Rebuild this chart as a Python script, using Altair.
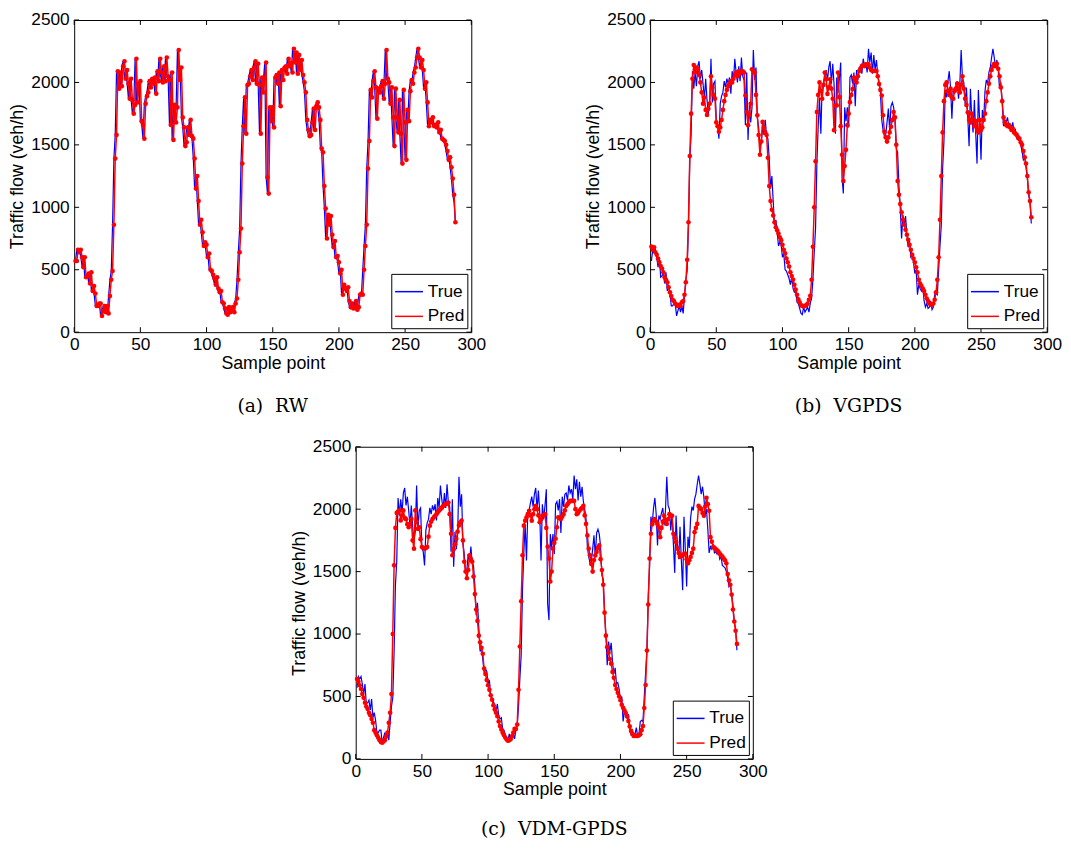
import altair as alt
import pandas as pd

# ---------------- data ----------------
true_flow = [
    570, 660, 640, 660, 600, 520, 600, 440, 450, 470,
    390, 480, 330, 370, 310, 210, 210, 230, 230, 130,
    170, 210, 160, 210, 150, 290, 420, 490, 860, 1390,
    1580, 2090, 1950, 2080, 1970, 2130, 2170, 2030, 2100, 1990,
    1870, 2030, 1860, 1750, 1820, 2190, 1840, 1990, 2010, 1690,
    1660, 1550, 1830, 1890, 1920, 2010, 1960, 2030, 1990, 2040,
    1910, 2090, 2010, 2190, 2080, 2000, 2130, 2010, 2200, 2050,
    2020, 1660, 2080, 1540, 1820, 1680, 1800, 2260, 2020, 2120,
    1720, 1640, 1490, 1520, 1640, 1580, 1700, 1570, 1550, 1390,
    1150, 1250, 1050, 860, 900, 800, 690, 720, 700, 600,
    630, 500, 490, 460, 430, 380, 440, 350, 320, 330,
    240, 230, 190, 150, 140, 200, 160, 180, 200, 160,
    230, 270, 420, 640, 830, 1350, 1650, 1880, 1590, 1980,
    1990, 2050, 2100, 2020, 2120, 2170, 1990, 2150, 1980, 1590,
    2040, 1920, 2030, 2160, 1240, 1110, 1800, 1690, 1800, 1640,
    2040, 2060, 1990, 2080, 1810, 2100, 2020, 2120, 2130, 2070,
    2190, 2130, 2160, 2080, 2270, 2160, 2240, 2070, 2220, 2100,
    2180, 2060, 2000, 1920, 1700, 1620, 1570, 1580, 1680, 1790,
    1620, 1810, 1840, 1800, 1700, 1470, 1440, 1170, 990, 750,
    940, 860, 930, 780, 680, 730, 600, 610, 560, 470,
    500, 300, 380, 350, 330, 360, 250, 200, 230, 190,
    200, 250, 180, 200, 300, 310, 300, 500, 690, 860,
    1310, 1530, 1940, 1880, 2010, 2090, 1960, 1710, 1950, 1920,
    1970, 2010, 1870, 1990, 2260, 2030, 2000, 1830, 1960, 1720,
    1490, 1950, 1720, 1600, 1860, 1590, 1350, 1940, 1680, 1380,
    1780, 1690, 1930, 2020, 1990, 2080, 2120, 2200, 2270, 2200,
    2120, 2180, 2100, 1950, 2000, 1840, 1650, 1700, 1680, 1720,
    1650, 1660, 1640, 1680, 1600, 1620, 1550, 1540, 1530, 1500,
    1450, 1380, 1400, 1320, 1230, 1100, 1040, 870,
]

pred_rw = [
    570, 570, 660, 640, 660, 600, 520, 600, 440, 450,
    470, 390, 480, 330, 370, 310, 210, 210, 230, 230,
    130, 170, 210, 160, 210, 150, 290, 420, 490, 860,
    1390, 1580, 2090, 1950, 2080, 1970, 2130, 2170, 2030, 2100,
    1990, 1870, 2030, 1860, 1750, 1820, 2190, 1840, 1990, 2010,
    1690, 1660, 1550, 1830, 1890, 1920, 2010, 1960, 2030, 1990,
    2040, 1910, 2090, 2010, 2190, 2080, 2000, 2130, 2010, 2200,
    2050, 2020, 1660, 2080, 1540, 1820, 1680, 1800, 2260, 2020,
    2120, 1720, 1640, 1490, 1520, 1640, 1580, 1700, 1570, 1550,
    1390, 1150, 1250, 1050, 860, 900, 800, 690, 720, 700,
    600, 630, 500, 490, 460, 430, 380, 440, 350, 320,
    330, 240, 230, 190, 150, 140, 200, 160, 180, 200,
    160, 230, 270, 420, 640, 830, 1350, 1650, 1880, 1590,
    1980, 1990, 2050, 2100, 2020, 2120, 2170, 1990, 2150, 1980,
    1590, 2040, 1920, 2030, 2160, 1240, 1110, 1800, 1690, 1800,
    1640, 2040, 2060, 1990, 2080, 1810, 2100, 2020, 2120, 2130,
    2070, 2190, 2130, 2160, 2080, 2270, 2160, 2240, 2070, 2220,
    2100, 2180, 2060, 2000, 1920, 1700, 1620, 1570, 1580, 1680,
    1790, 1620, 1810, 1840, 1800, 1700, 1470, 1440, 1170, 990,
    750, 940, 860, 930, 780, 680, 730, 600, 610, 560,
    470, 500, 300, 380, 350, 330, 360, 250, 200, 230,
    190, 200, 250, 180, 200, 300, 310, 300, 500, 690,
    860, 1310, 1530, 1940, 1880, 2010, 2090, 1960, 1710, 1950,
    1920, 1970, 2010, 1870, 1990, 2260, 2030, 2000, 1830, 1960,
    1720, 1490, 1950, 1720, 1600, 1860, 1590, 1350, 1940, 1680,
    1380, 1780, 1690, 1930, 2020, 1990, 2080, 2120, 2200, 2270,
    2200, 2120, 2180, 2100, 1950, 2000, 1840, 1650, 1700, 1680,
    1720, 1650, 1660, 1640, 1680, 1600, 1620, 1550, 1540, 1530,
    1500, 1450, 1380, 1400, 1320, 1230, 1100, 880,
]

pred_vgpds = [
    685, 660, 680, 640, 620, 590, 560, 530, 510, 480,
    440, 420, 400, 360, 320, 290, 260, 250, 230, 220,
    210, 220, 210, 240, 250, 300, 400, 580, 880, 1410,
    1750, 2030, 2140, 2080, 2120, 2110, 2060, 2000, 1920, 1830,
    1880, 1780, 1740, 1790, 1830, 2050, 1960, 1900, 1870, 1680,
    1650, 1605, 1640, 1700, 1780, 1850, 1900, 1940, 1970, 1990,
    2010, 2000, 2030, 2060, 2080, 2050, 2090, 2070, 2090, 2090,
    2080, 1895, 1763, 1658, 1740, 1829, 2105, 2090, 2079, 1900,
    1737, 1579, 1421, 1526, 1684, 1640, 1600, 1579, 1397, 1171,
    1050, 980, 934, 880, 840, 816, 790, 760, 737, 700,
    660, 632, 590, 560, 526, 480, 450, 421, 380, 342,
    300, 263, 240, 215, 211, 205, 211, 215, 230, 260,
    292, 420, 684, 1000, 1368, 1763, 1900, 2000, 1930, 1869,
    1980, 2079, 2026, 1908, 1960, 2026, 1950, 1869, 1618, 1816,
    1816, 2079, 1882, 1650, 1421, 1210, 1330, 1460, 1658, 1750,
    1842, 1900, 1947, 2039, 2020, 2000, 2050, 2092, 2110, 2131,
    2140, 2131, 2145, 2140, 2145, 2120, 2100, 2092, 2092, 2092,
    2092, 2050, 1987, 1940, 1895, 1737, 1605, 1560, 1526, 1560,
    1600, 1645, 1700, 1763, 1720, 1500, 1210, 1100, 1026, 960,
    900, 860, 820, 780, 740, 700, 660, 620, 590, 560,
    520, 480, 420, 390, 370, 350, 330, 300, 270, 250,
    230, 220, 220, 230, 260, 320, 420, 600, 900, 1250,
    1600, 1850, 1980, 2000, 1930, 1900, 1950, 1880, 1870, 1930,
    1950, 1990, 1950, 1920, 1980, 2050, 1950, 1870, 1820, 1760,
    1700, 1680, 1750, 1700, 1650, 1690, 1620, 1600, 1700, 1620,
    1640, 1700, 1750, 1850, 1920, 1990, 2050, 2100, 2130, 2150,
    2130, 2150, 2110, 2050, 1960, 1850, 1720, 1680, 1660, 1650,
    1660, 1640, 1620, 1630, 1600, 1590, 1580, 1560, 1550, 1520,
    1500, 1450, 1400, 1350, 1250, 1120, 1050, 920,
]

pred_vdm_gpds = [
    640, 620, 590, 560, 520, 490, 450, 420, 400, 370,
    350, 320, 290, 230, 210, 190, 170, 150, 135, 130,
    140, 150, 180, 210, 290, 370, 520, 1000, 1550, 1850,
    1970, 1980, 1990, 1910, 1950, 1990, 1930, 1920, 1880, 1855,
    1880, 1921, 1750, 1684, 1990, 1900, 1842, 1855, 1760, 1697,
    1690, 1684, 1690, 1697, 1780, 1868, 1900, 1921, 1935, 1947,
    1960, 1975, 1990, 2000, 2013, 2025, 2035, 2040, 2045, 2053,
    1960, 1803, 1631, 1680, 1720, 1763, 1820, 1870, 1895, 1908,
    1750, 1579, 1500, 1447, 1513, 1631, 1600, 1579, 1460, 1320,
    1197, 1105, 987, 934, 890, 842, 724, 680, 632, 590,
    553, 510, 474, 430, 395, 370, 342, 300, 263, 235,
    210, 190, 171, 155, 145, 150, 158, 180, 210, 240,
    240, 276, 553, 900, 1263, 1631, 1868, 1908, 1934, 1960,
    1987, 1950, 1908, 1960, 2000, 2026, 2000, 1950, 1895, 1920,
    1947, 1950, 1960, 1850, 1700, 1605, 1421, 1500, 1684, 1730,
    1763, 1855, 1934, 1930, 1921, 1940, 1960, 1990, 2026, 2040,
    2055, 2066, 2066, 2066, 2066, 2000, 1960, 1970, 1987, 2000,
    2010, 2026, 1950, 1882, 1790, 1684, 1631, 1560, 1500, 1592,
    1630, 1658, 1690, 1710, 1600, 1513, 1395, 1171, 987, 895,
    850, 800, 763, 697, 650, 592, 560, 530, 500, 470,
    434, 410, 390, 368, 340, 303, 260, 224, 200, 184,
    184, 184, 184, 190, 197, 230, 263, 408, 592, 868,
    1237, 1605, 1803, 1880, 1908, 1921, 1900, 1880, 1855, 1776,
    1850, 1900, 1947, 1910, 1882, 1920, 1960, 1950, 1947, 1803,
    1770, 1737, 1684, 1650, 1618, 1625, 1631, 1640, 1645, 1600,
    1566, 1590, 1618, 1650, 1684, 1816, 1850, 1882, 2026, 2010,
    2000, 1970, 1947, 2020, 2092, 2040, 1987, 1776, 1740, 1697,
    1690, 1680, 1671, 1660, 1645, 1630, 1620, 1605, 1590, 1566,
    1480, 1430, 1395, 1316, 1197, 1100, 1026, 921,
]

x_tick_values = [0, 50, 100, 150, 200, 250, 300]
y_tick_values = [0, 500, 1000, 1500, 2000, 2500]
series_names = ["True", "Pred"]
series_colors = ["#0000ff", "#ff0000"]
NB = "\u00a0\u00a0"
captions = ["(a)" + NB + "RW", "(b)" + NB + "VGPDS", "(c)" + NB + "VDM-GPDS"]

# ---------------- styling ----------------
W, H = 402, 316
SANS = "Liberation Sans"
SERIF = "DejaVu Serif"


def make_df(values, name):
    return pd.DataFrame({"x": list(range(1, len(values) + 1)), "y": values, "series": name})


def panel(pred, caption, cap_offset):
    df_true = make_df(true_flow, "True")
    df_pred = make_df(pred, "Pred")
    xs = alt.Scale(domain=[0, 300], nice=False, zero=False)
    ys = alt.Scale(domain=[0, 2500], nice=False)
    color = alt.Color(
        "series:N",
        scale=alt.Scale(domain=series_names, range=series_colors),
        legend=alt.Legend(
            title=None, orient="bottom-right", offset=4, padding=3,
            strokeColor="black", fillColor="white", cornerRadius=0,
            symbolType="stroke", symbolSize=800, symbolStrokeWidth=1.5,
            labelFont=SANS, labelFontSize=17.5, labelColor="black",
            labelOffset=4, rowPadding=1,
        ),
    )
    xax = alt.Axis(values=x_tick_values, format="d", title="Sample point", ticks=False, tickSize=0,
                   domain=False, grid=False, labelFont=SANS, labelFontSize=17.5,
                   labelPadding=4, labelColor="black", labelFlush=False,
                   titleFont=SANS, titleFontSize=18, titleFontWeight="normal",
                   titleColor="black", titlePadding=1)
    yax = alt.Axis(values=y_tick_values, format="d", title="Traffic flow (veh/h)", ticks=False, tickSize=0,
                   domain=False, grid=False, labelFont=SANS, labelFontSize=17.5,
                   labelPadding=5, labelColor="black", labelFlush=False,
                   titleFont=SANS, titleFontSize=18, titleFontWeight="normal",
                   titleColor="black", titlePadding=4)

    line_true = alt.Chart(df_true).mark_line(strokeWidth=1.2).encode(
        x=alt.X("x:Q", scale=xs, axis=xax),
        y=alt.Y("y:Q", scale=ys, axis=yax),
        color=color,
    )
    line_pred = alt.Chart(df_pred).mark_line(strokeWidth=1.5).encode(
        x="x:Q", y="y:Q", color=color
    )
    pts = alt.Chart(df_pred).mark_circle(size=22, opacity=1, color="#ff0000").encode(
        x="x:Q", y="y:Q"
    )
    xt = pd.DataFrame({"x": x_tick_values})
    yt = pd.DataFrame({"y": y_tick_values})
    tick_b = alt.Chart(xt).mark_rule(color="black", strokeWidth=1).encode(
        x="x:Q", y=alt.value(H), y2=alt.value(H - 5))
    tick_t = alt.Chart(xt).mark_rule(color="black", strokeWidth=1).encode(
        x="x:Q", y=alt.value(0), y2=alt.value(5))
    tick_l = alt.Chart(yt).mark_rule(color="black", strokeWidth=1).encode(
        y="y:Q", x=alt.value(0), x2=alt.value(5))
    tick_r = alt.Chart(yt).mark_rule(color="black", strokeWidth=1).encode(
        y="y:Q", x=alt.value(W), x2=alt.value(W - 5))

    return alt.layer(line_true, line_pred, pts, tick_b, tick_t, tick_l, tick_r).properties(
        width=W, height=H,
        title=alt.TitleParams(caption, orient="bottom", font=SERIF, fontSize=19,
                              fontWeight="normal", color="black", offset=cap_offset,
                              anchor="middle", frame="group"),
    )


pa = panel(pred_rw, captions[0], 25)
pb = panel(pred_vgpds, captions[1], 25)
pc = panel(pred_vdm_gpds, captions[2], 22)

spacer = alt.Chart(pd.DataFrame({"v": [0]})).mark_point(opacity=0).encode(
    x=alt.value(0), y=alt.value(0)
).properties(width=217, height=10, view=alt.ViewBackground(stroke="transparent"))

top = alt.hconcat(pa, pb, spacing=98).resolve_scale(color="independent").resolve_legend(color="independent")
bottom = alt.hconcat(spacer, pc, spacing=0).resolve_scale(color="independent").resolve_legend(color="independent")

chart = alt.vconcat(top, bottom, spacing=21).resolve_scale(
    color="independent"
).resolve_legend(color="independent").properties(
    padding={"left": 0, "top": -3, "right": 0, "bottom": 0},
    background="white",
).configure_view(stroke="black", strokeWidth=1)

chart.save("out.html", embed_options={"renderer": "svg", "actions": False})
